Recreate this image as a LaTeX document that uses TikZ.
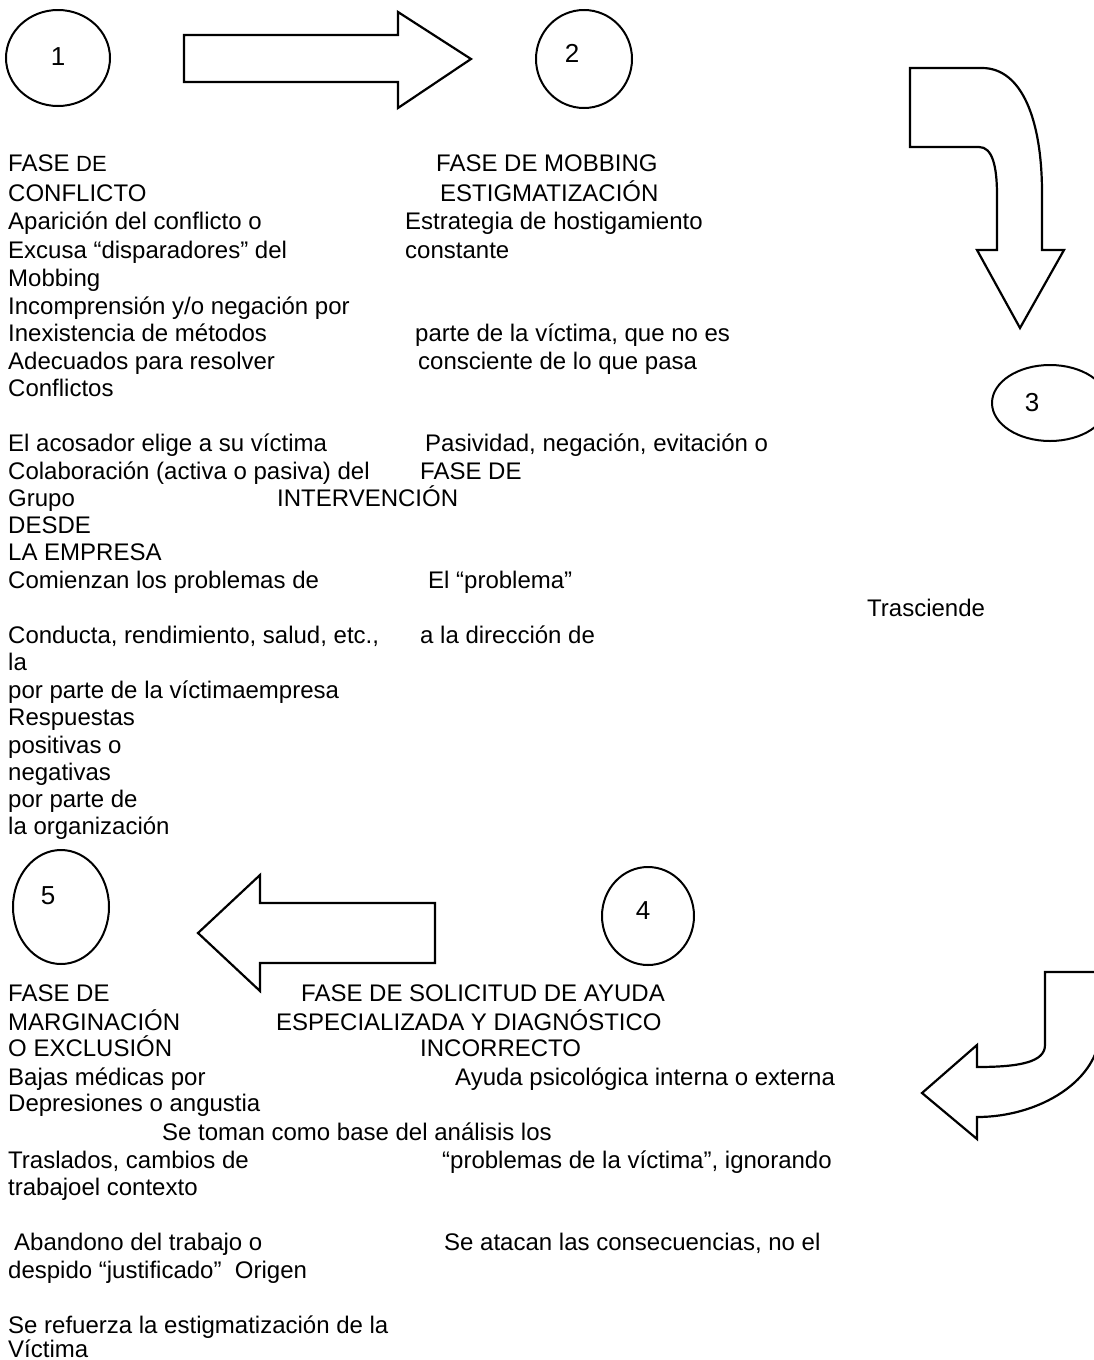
\documentclass[tikz,border=0pt]{standalone}
\usepackage{fontspec}
\setmainfont{Liberation Sans}
\begin{document}
\begin{tikzpicture}[x=1pt,y=-1pt,
  txt/.style={anchor=base west, inner sep=0pt, font=\fontsize{24}{28}\selectfont},
  num/.style={anchor=base, inner sep=0pt, font=\fontsize{26}{30}\selectfont},
  blockshape/.style={draw=black, line width=2.2pt, line join=miter, fill=white},
  ring/.style={draw=black, line width=2pt}]
\useasboundingbox (0,0) rectangle (1094,1360);
\fill[white] (0,0) rectangle (1094,1360);
\begin{scope}
\clip (0,0) rectangle (1094,1360);
% circles
\coordinate (c1) at (58,58);
\coordinate (c2) at (584,59);
\coordinate (c3) at (1050,403);
\coordinate (c4) at (648,916);
\coordinate (c5) at (61,907);
\draw[ring] (c1) ellipse [x radius=52, y radius=48];
\draw[ring] (c2) ellipse [x radius=48, y radius=49];
\draw[ring] (c3) ellipse [x radius=58, y radius=38];
\draw[ring] (c4) ellipse [x radius=46, y radius=49];
\draw[ring] (c5) ellipse [x radius=48, y radius=57];
\node[num] (n1) at (58,65) {1};
\node[num] (n2) at (572,62) {2};
\node[num] (n3) at (1032,411) {3};
\node[num] (n4) at (643,919) {4};
\node[num] (n5) at (48,904) {5};
% block arrows
\draw[blockshape] (184,35) -- (398,35) -- (398,12) -- (471,59) -- (398,108) -- (398,82) -- (184,82) -- cycle;
\draw[blockshape] (910,68) -- (982,68) .. controls (1022,68) and (1042,120) .. (1042,193) -- (1042,250) -- (1064,250) -- (1020,328) -- (977,250) -- (997,250) -- (997,195) .. controls (997,165) and (992,147) .. (979,147) -- (910,147) -- cycle;
\draw[blockshape] (435,903) -- (260,903) -- (260,875) -- (198,933) -- (260,991) -- (260,963) -- (435,963) -- cycle;
\draw[blockshape] (1045,972) -- (1100,972) -- (1100,1030) .. controls (1100,1080) and (1040,1117) .. (977,1117) -- (977,1139) -- (922,1093) -- (977,1045) -- (977,1067) .. controls (1020,1067) and (1045,1062) .. (1045,1045) -- cycle;
\end{scope}
% upper left column
\node[txt] (l1) at (8,171) {FASE {\fontsize{22}{26}\selectfont DE}};
\node[txt] (l2) at (8,201) {CONFLICTO};
\node[txt] (l3) at (8,229) {Aparición del conflicto o};
\node[txt] (l4) at (8,258) {Excusa “disparadores” del};
\node[txt] (l5) at (8,286) {Mobbing};
\node[txt] (l6) at (8,314) {Incomprensión y/o negación por};
\node[txt] (l7) at (8,341) {Inexistencia de métodos};
\node[txt] (l8) at (8,369) {Adecuados para resolver};
\node[txt] (l9) at (8,396) {Conflictos};
\node[txt] (l10) at (8,451) {El acosador elige a su víctima};
\node[txt] (l11) at (8,479) {Colaboración (activa o pasiva) del};
\node[txt] (l12) at (8,506) {Grupo};
\node[txt] (l13) at (8,533) {DESDE};
\node[txt] (l14) at (8,560) {LA EMPRESA};
\node[txt] (l15) at (8,588) {Comienzan los problemas de};
\node[txt] (l16) at (8,643) {Conducta, rendimiento, salud, etc.,};
\node[txt] (l17) at (8,670) {la};
\node[txt] (l18) at (8,698) {por parte de la víctimaempresa};
\node[txt] (l19) at (8,725) {Respuestas};
\node[txt] (l20) at (8,753) {positivas o};
\node[txt] (l21) at (8,780) {negativas};
\node[txt] (l22) at (8,807) {por parte de};
\node[txt] (l23) at (8,834) {la organización};
% upper middle column
\node[txt] (m1) at (436,171) {FASE DE MOBBING};
\node[txt] (m2) at (440,201) {ESTIGMATIZACIÓN};
\node[txt] (m3) at (405,229) {Estrategia de hostigamiento};
\node[txt] (m4) at (405,258) {constante};
\node[txt] (m5) at (415,341) {parte de la víctima, que no es};
\node[txt] (m6) at (418,369) {consciente de lo que pasa};
\node[txt] (m7) at (425,451) {Pasividad, negación, evitación o};
\node[txt] (m8) at (420,479) {FASE DE};
\node[txt] (m9) at (277,506) {INTERVENCIÓN};
\node[txt] (m10) at (428,588) {El “problema”};
\node[txt] (m11) at (420,643) {a la dirección de};
\node[txt] (r1) at (867,616) {Trasciende};
% lower left column
\node[txt] (b1) at (8,1001) {FASE DE};
\node[txt] (b2) at (8,1030) {MARGINACIÓN};
\node[txt] (b3) at (8,1056) {O EXCLUSIÓN};
\node[txt] (b4) at (8,1085) {Bajas médicas por};
\node[txt] (b5) at (8,1111) {Depresiones o angustia};
\node[txt] (b6) at (8,1168) {Traslados, cambios de};
\node[txt] (b7) at (8,1195) {trabajoel contexto};
\node[txt] (b8) at (14,1250) {Abandono del trabajo o};
\node[txt] (b9) at (8,1278) {despido “justificado”\ \ Origen};
\node[txt] (b10) at (8,1333) {Se refuerza la estigmatización de la};
\node[txt] (b11) at (8,1357) {Víctima};
% lower middle column
\node[txt] (mb1) at (301,1001) {FASE DE SOLICITUD DE AYUDA};
\node[txt] (mb2) at (276,1030) {ESPECIALIZADA Y DIAGNÓSTICO};
\node[txt] (mb3) at (420,1056) {INCORRECTO};
\node[txt] (mb4) at (455,1085) {Ayuda psicológica interna o externa};
\node[txt] (mb5) at (162,1140) {Se toman como base del análisis los};
\node[txt] (mb6) at (442,1168) {“problemas de la víctima”, ignorando};
\node[txt] (mb7) at (444,1250) {Se atacan las consecuencias, no el};
\end{tikzpicture}
\end{document}
